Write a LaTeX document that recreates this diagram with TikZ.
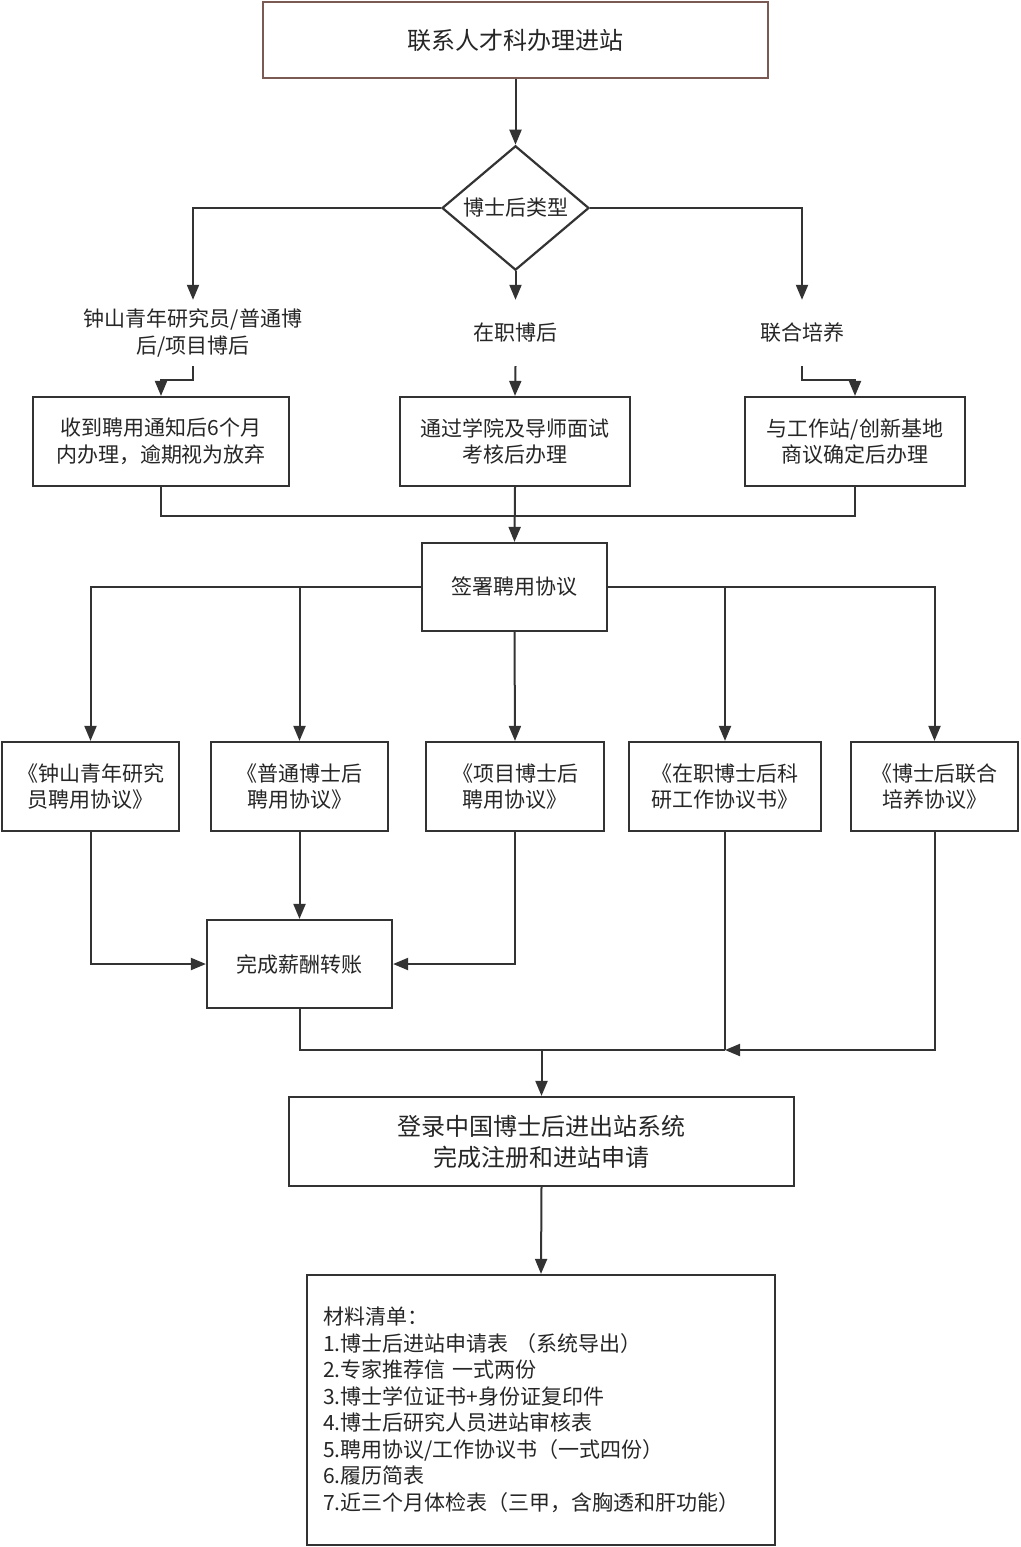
\documentclass[tikz,border=0pt]{standalone}
\usepackage{fontspec}
\setmainfont{Noto Sans CJK SC}
\usetikzlibrary{arrows.meta,shapes.geometric}
\definecolor{ink}{HTML}{262626}
\definecolor{linec}{HTML}{333333}
\definecolor{brownb}{HTML}{7A5A52}
\begin{document}
\begin{tikzpicture}[x=1pt,y=-1pt,
  every node/.style={text=ink,font=\fontsize{21}{26.5}\selectfont,align=center,inner sep=0pt},
  boxs/.style={draw=linec,line width=2.2pt,rectangle},
  lab/.style={minimum height=66pt},
  conn/.style={draw=linec,line width=2pt},
  arr/.style={conn,-{Triangle[length=15pt,width=12pt]}}]
\useasboundingbox (0,0) rectangle (1020,1547);
\fill[white] (0,0) rectangle (1020,1547);
% top
\node[boxs,draw=brownb,line width=1.6pt,minimum width=505pt,minimum height=76pt,font=\fontsize{24}{30}\selectfont] (top) at (515.5,40) {联系人才科办理进站};
\node[diamond,draw=linec,line width=2.2pt,minimum width=147pt,minimum height=114pt] (dia) at (515.5,208) {博士后类型};
% labels
\node[lab] (l1) at (193,333) {钟山青年研究员/普通博\\后/项目博后};
\node[lab] (l2) at (515.5,333) {在职博后};
\node[lab] (l3) at (802,333) {联合培养};
% boxes row 1
\node[boxs,minimum width=256pt,minimum height=89pt] (b1) at (161,441.5) {收到聘用通知后6个月\\内办理，逾期视为放弃};
\node[boxs,minimum width=230pt,minimum height=89pt] (b2) at (515,441.5) {通过学院及导师面试\\考核后办理};
\node[boxs,minimum width=220pt,minimum height=89pt] (b3) at (855,441.5) {与工作站/创新基地\\商议确定后办理};
% sign
\node[boxs,minimum width=185pt,minimum height=88pt] (sign) at (514.5,587) {签署聘用协议};
% agreements
\node[boxs,minimum width=177pt,minimum height=89pt] (p1) at (90.5,786.5) {《钟山青年研究\\员聘用协议》};
\node[boxs,minimum width=177pt,minimum height=89pt] (p2) at (299.5,786.5) {《普通博士后\\聘用协议》};
\node[boxs,minimum width=178pt,minimum height=89pt] (p3) at (515,786.5) {《项目博士后\\聘用协议》};
\node[boxs,minimum width=192pt,minimum height=89pt] (p4) at (725,786.5) {《在职博士后科\\研工作协议书》};
\node[boxs,minimum width=167pt,minimum height=89pt] (p5) at (934.5,786.5) {《博士后联合\\培养协议》};
% pay
\node[boxs,minimum width=185pt,minimum height=88pt] (pay) at (299.5,964) {完成薪酬转账};
% login
\node[boxs,minimum width=505pt,minimum height=89pt,font=\fontsize{24}{31}\selectfont] (login) at (541.5,1141.5) {登录中国博士后进出站系统\\完成注册和进站申请};
% materials
\node[boxs,minimum width=468pt,minimum height=270pt,text width=436pt,align=left,inner xsep=16pt] (mat) at (541,1410) {材料清单：\\
1.博士后进站申请表 （系统导出）\\
2.专家推荐信 一式两份\\
3.博士学位证书+身份证复印件\\
4.博士后研究人员进站审核表\\
5.聘用协议/工作协议书（一式四份）\\
6.履历简表\\
7.近三个月体检表（三甲，含胸透和肝功能）};
% connectors
\draw[arr] (top.south) -- (dia.north);
\draw[arr] (dia.west) -| (l1.north);
\draw[arr] (dia.south) -- (l2.north);
\draw[arr] (dia.east) -| (l3.north);
\draw[arr] (l1.south) -- ++(0,14) -| (b1.north);
\draw[arr] (l2.south) -- (b2.north);
\draw[arr] (l3.south) -- ++(0,14) -| (b3.north);
\draw[conn] (b1.south) -- ++(0,29) -| (b3.south);
\draw[arr] (b2.south) -- (sign.north);
\draw[arr] (sign.west) -| (p1.north);
\draw[arr] (sign.west) -| (p2.north);
\draw[arr] (sign.south) -- (p3.north);
\draw[arr] (sign.east) -| (p4.north);
\draw[arr] (sign.east) -| (p5.north);
\draw[arr] (p1.south) |- (pay.west);
\draw[arr] (p2.south) -- (pay.north);
\draw[arr] (p3.south) |- (pay.east);
\coordinate (j) at (725,1050);
\draw[conn] (p4.south) -- (j);
\draw[arr] (p5.south) |- (j);
\draw[conn] (pay.south) |- (j);
\coordinate (m) at (login.north |- j);
\draw[arr] (m) -- (login.north);
\draw[arr] (login.south) -- (mat.north);
\end{tikzpicture}
\end{document}
